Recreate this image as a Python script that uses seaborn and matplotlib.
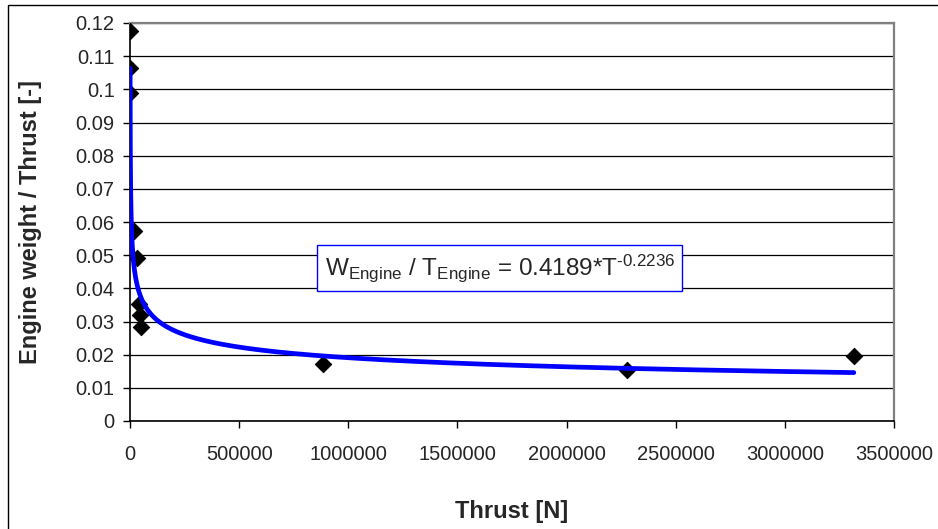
import numpy as np
import pandas as pd
import seaborn as sns
import matplotlib.pyplot as plt
from matplotlib.patches import Rectangle
from matplotlib.ticker import FuncFormatter

# engine data
thrust_n = [460, 700, 1000, 19700, 33400, 42000, 44000, 51800, 885000, 2279000, 3316000]
weight_ratio = [0.1063, 0.1175, 0.099, 0.0573, 0.049, 0.0353, 0.032, 0.0284, 0.0173, 0.0153, 0.0196]

# power-law trendline as printed on the chart
fit_coef = 0.4189
fit_exp = -0.2236

y_ticks = [i / 100 for i in range(0, 13)]
x_ticks = [0, 500000, 1000000, 1500000, 2000000, 2500000, 3000000, 3500000]

df = pd.DataFrame({"thrust": thrust_n, "ratio": weight_ratio})

t_fit = np.geomspace(min(thrust_n), max(thrust_n), 400)
fit = pd.DataFrame({"thrust": t_fit, "ratio": fit_coef * t_fit ** fit_exp})

sns.set_style("white")
plt.rcParams["font.family"] = ["Liberation Sans", "DejaVu Sans"]
plt.rcParams["mathtext.fontset"] = "custom"
plt.rcParams["mathtext.rm"] = "Liberation Sans"
plt.rcParams["mathtext.it"] = "Liberation Sans"

fig = plt.figure(figsize=(9.38, 5.29), dpi=100)
ax = fig.add_axes([130 / 938, 1 - 421 / 529, 764 / 938, 398 / 529])

ax.yaxis.grid(True, color="black", linewidth=0.9)
ax.set_axisbelow(True)

sns.scatterplot(data=df, x="thrust", y="ratio", marker="D", s=70,
                color="black", edgecolor="black", ax=ax, zorder=3)
sns.lineplot(data=fit, x="thrust", y="ratio", color="#0000FF",
             linewidth=3.4, ax=ax, zorder=4)

ax.set_xlim(0, 3500000)
ax.set_ylim(0, 0.12)
ax.set_xticks(x_ticks)
ax.set_yticks(y_ticks)
ax.xaxis.set_major_formatter(FuncFormatter(lambda v, p: f"{int(v)}"))
ax.yaxis.set_major_formatter(FuncFormatter(lambda v, p: f"{v:g}"))
ax.tick_params(axis="both", labelsize=14.5, direction="out", length=5,
               width=1, color="black", left=True, bottom=True)
ax.tick_params(axis="y", pad=6)
ax.tick_params(axis="x", pad=12)

for side in ["left", "bottom"]:
    ax.spines[side].set_color("black")
    ax.spines[side].set_linewidth(1.2)
for side in ["top", "right"]:
    ax.spines[side].set_color("#808080")
    ax.spines[side].set_linewidth(1.6)

ax.set_xlabel("Thrust [N]", fontsize=17, fontweight="bold", labelpad=26)
ax.set_ylabel("Engine weight / Thrust [-]", fontsize=17, fontweight="bold", labelpad=24)

ax.text(0.484, 0.384,
        r"W$_{\mathrm{Engine}}$ / T$_{\mathrm{Engine}}$ = 0.4189*T$^{\text{-0.2236}}$",
        transform=ax.transAxes, ha="center", va="center", fontsize=17.5, zorder=5,
        bbox=dict(boxstyle="square,pad=0.3", facecolor="white",
                  edgecolor="#0000FF", linewidth=1))

# outer chart frame, running off the right and bottom edges
fig.patches.append(Rectangle((8 / 938, -0.2), 1.2, 1.2 - 5 / 529,
                             transform=fig.transFigure, fill=False,
                             edgecolor="black", linewidth=1, clip_on=False))

fig.savefig("out.png", dpi=100)
